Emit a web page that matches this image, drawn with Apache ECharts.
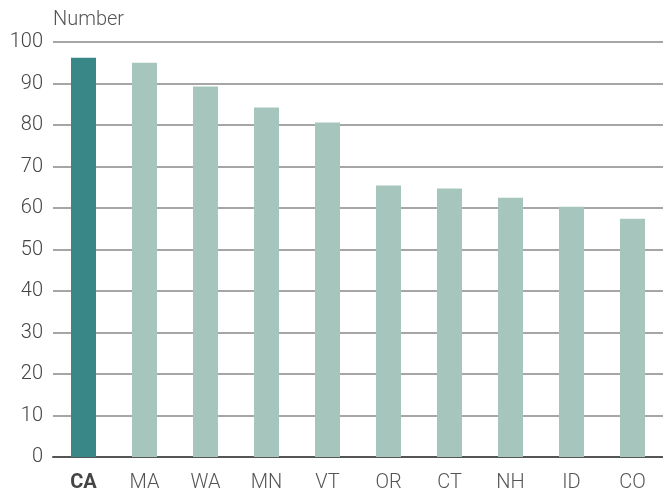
<!DOCTYPE html>
<html><head><meta charset="utf-8">
<script src="https://cdn.jsdelivr.net/npm/echarts@6/dist/echarts.min.js"></script>
<style>html,body{margin:0;padding:0;background:#fff}#c{width:663px;height:494px}</style>
</head><body><div id="c"></div>
<script>
const categories = ['CA','MA','WA','MN','VT','OR','CT','NH','ID','CO'];
const values = [96.2, 95.0, 89.3, 84.2, 80.6, 65.4, 64.7, 62.5, 60.3, 57.4];
const highlight = 'CA';
const yTitle = 'Number';

const FONT = 'Roboto';
const chart = echarts.init(document.getElementById('c'));
chart.setOption({
  animation: false,
  grid: {left: 53, right: 0, top: 42, bottom: 37},
  xAxis: {
    type: 'category', data: categories,
    axisLine: {lineStyle: {color: '#555', width: 2}},
    axisTick: {show: false},
    axisLabel: {
      interval: 0, margin: 16, fontSize: 20, fontFamily: FONT, fontWeight: 300, color: '#555',
      formatter: v => v === highlight ? '{b|' + v + '}' : v,
      rich: {b: {fontWeight: 'bold', color: '#444', fontSize: 20, fontFamily: FONT}}
    }
  },
  yAxis: {
    type: 'value', min: 0, max: 100, interval: 10,
    name: yTitle, nameLocation: 'end', nameGap: 12,
    nameTextStyle: {align: 'left', fontSize: 20, fontFamily: FONT, fontWeight: 300, color: '#555'},
    axisLine: {show: false}, axisTick: {show: false},
    axisLabel: {margin: 10, fontSize: 20, fontFamily: FONT, fontWeight: 300, color: '#444'},
    splitLine: {lineStyle: {color: '#888', width: 1.5}}
  },
  series: [{
    type: 'bar', barWidth: '41%',
    data: categories.map((c, i) => ({value: values[i], itemStyle: {color: c === highlight ? '#3a8787' : '#a6c5bc'}}))
  }]
});
</script></body></html>
